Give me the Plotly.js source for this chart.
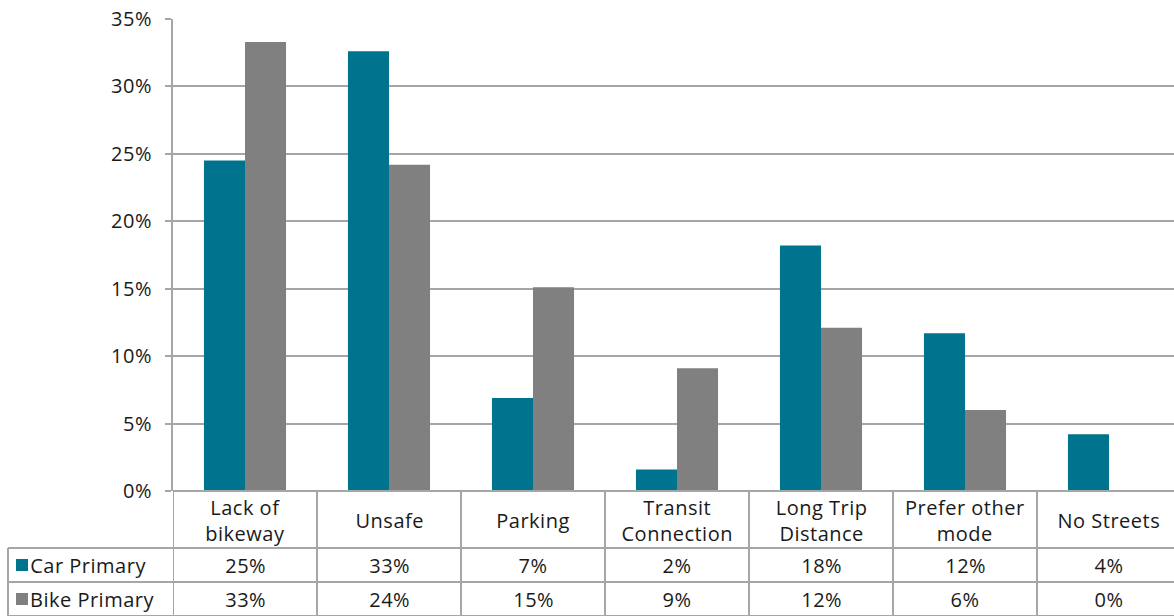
<!DOCTYPE html>
<html>
<head>
<meta charset="utf-8">
<script src="https://cdn.plot.ly/plotly-3.0.1.min.js"></script>
<style>
html,body{margin:0;padding:0;background:#fff;}
#chart{width:1174px;height:616px;}
#chart .annotation-text, #chart .ytick text{letter-spacing:0.5px;}
</style>
</head>
<body>
<div id="chart"></div>
<script>
const categories = ["Lack of<br>bikeway", "Unsafe", "Parking", "Transit<br>Connection", "Long Trip<br>Distance", "Prefer other<br>mode", "No Streets"];
const carPrimary = [24.5, 32.6, 6.9, 1.6, 18.2, 11.7, 4.2];
const bikePrimary = [33.3, 24.2, 15.1, 9.1, 12.1, 6.0, 0.0];
const seriesNames = ["Car Primary", "Bike Primary"];
const seriesColors = ["#00738f", "#808080"];
const yTicks = [0, 5, 10, 15, 20, 25, 30, 35];

const W = 1174, H = 616;
const mL = 173, mR = 0, mT = 19, mB = 125;
const plotH = H - mT - mB;
const plotW = W - mL - mR;
const px = p => -p / plotH;           // pixels below plot bottom -> paper y
const pxX = p => p / plotW;           // pixels right of plot left -> paper x
const lineCol = "#a6a6a6";
const font = "Open Sans, sans-serif";
const fs = 20;
const n = categories.length;
const catW = 144;                      // category width in px (last column runs past the window edge)
const xEnd = -0.5 + plotW / catW;

const xs = categories.map((c, i) => i);
const traces = [carPrimary, bikePrimary].map((vals, k) => ({
  type: "bar", x: xs, y: vals, name: seriesNames[k],
  marker: {color: seriesColors[k], line: {width: 0}},
  hoverinfo: "y"
}));

const shapes = [];
const annotations = [];
// table vertical lines at category boundaries
for (let i = 0; i <= n; i++) {
  shapes.push({type: "line", xref: "x", yref: "paper", x0: i - 0.5, x1: i - 0.5,
    y0: 0, y1: px(125), line: {color: lineCol, width: 2}});
}
// horizontal lines of table
[57, 91, 125].forEach(p => {
  shapes.push({type: "line", xref: "paper", yref: "paper", x0: pxX(-165), x1: 1,
    y0: px(p), y1: px(p), line: {color: lineCol, width: 2}});
});
// left border of label column
shapes.push({type: "line", xref: "paper", yref: "paper", x0: pxX(-165), x1: pxX(-165),
  y0: px(57), y1: px(125), line: {color: lineCol, width: 2}});
// bottom axis line
shapes.push({type: "line", xref: "paper", yref: "paper", x0: 0, x1: 1, y0: 0, y1: 0,
  line: {color: lineCol, width: 2}});

// category labels
categories.forEach((c, i) => {
  annotations.push({xref: "x", yref: "paper", x: i, y: px(29), text: c, showarrow: false,
    xanchor: "center", yanchor: "middle", font: {family: font, size: fs, color: "#1a1a1a"}});
});
// data rows
[carPrimary, bikePrimary].forEach((vals, k) => {
  const yc = 57 + 17 + 34 * k;
  vals.forEach((v, i) => {
    annotations.push({xref: "x", yref: "paper", x: i, y: px(yc), text: Math.round(v) + "%", showarrow: false,
      xanchor: "center", yanchor: "middle", font: {family: font, size: fs, color: "#1a1a1a"}});
  });
  shapes.push({type: "rect", xref: "paper", yref: "paper", x0: pxX(-157), x1: pxX(-145),
    y0: px(yc + 6), y1: px(yc - 6), fillcolor: seriesColors[k], line: {width: 0}});
  annotations.push({xref: "paper", yref: "paper", x: pxX(-142), y: px(yc),
    text: seriesNames[k], showarrow: false, xanchor: "left", yanchor: "middle",
    font: {family: font, size: fs, color: "#1a1a1a"}});
});

const layout = {
  width: W, height: H,
  margin: {l: mL, r: mR, t: mT, b: mB},
  paper_bgcolor: "#fff", plot_bgcolor: "#fff",
  showlegend: false,
  barmode: "group", bargap: 0.43, bargroupgap: 0,
  xaxis: {range: [-0.5, xEnd], showticklabels: false, ticks: "", showgrid: false,
    zeroline: false, showline: false, fixedrange: true},
  yaxis: {range: [0, 35], tickvals: yTicks, ticktext: yTicks.map(t => t + "%"),
    showgrid: true, gridcolor: lineCol, gridwidth: 2, zeroline: false,
    showline: true, linecolor: lineCol, linewidth: 2,
    ticks: "outside", ticklen: 6, tickcolor: lineCol, tickwidth: 2,
    ticklabelstandoff: 9,
    tickfont: {family: font, size: fs, color: "#1a1a1a"}},
  shapes: shapes, annotations: annotations,
  font: {family: font}
};

Plotly.newPlot("chart", traces, layout, {staticPlot: true, displayModeBar: false});
</script>
</body>
</html>
